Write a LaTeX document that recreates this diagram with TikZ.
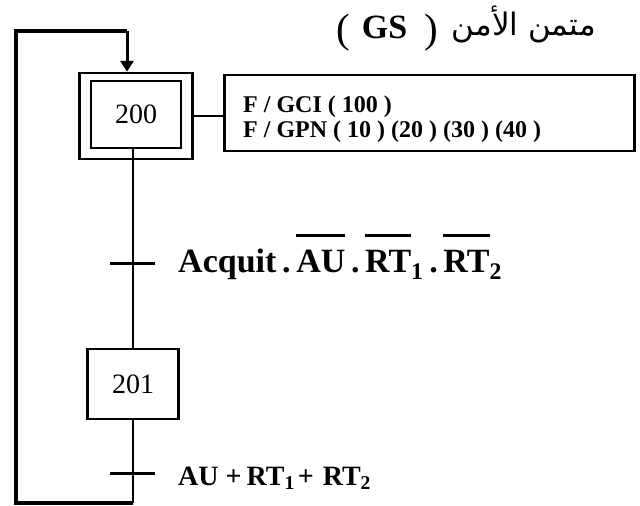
\documentclass[tikz,border=0pt]{standalone}
\usepackage{fontspec}
\setmainfont{Liberation Serif}
\newfontfamily\arabicfont[Script=Arabic]{DejaVu Sans}
\TeXXeTstate=1
\usetikzlibrary{arrows.meta}
\newcommand\ovbar[1]{\vbox{\hrule height 2.5pt\kern 13pt\hbox{#1}}}
\newcommand\bigparen[1]{\raisebox{-4.5pt}{\fontsize{41}{41}\selectfont #1}}
\begin{document}
\begin{tikzpicture}[x=1pt,y=-1pt,
  line/.style={line width=2.5pt},
  loopline/.style={line width=4.5pt, line join=miter},
  tickline/.style={line width=3pt},
  stepbox/.style={draw, line width=2.5pt, minimum width=90pt, minimum height=67pt,
    inner sep=0pt, font=\fontsize{28}{30}\selectfont},
  lbl/.style={anchor=base west, inner sep=0pt, font=\bfseries\fontsize{34}{40}\selectfont}]
\useasboundingbox (0,0) rectangle (640,506);
% steps
\node[stepbox, minimum width=113pt, minimum height=86pt] (s200o) at (136,116) {};
\node[stepbox] (s200) at (136,114.5) {200};
\node[stepbox, minimum width=91pt, minimum height=70pt] (s201) at (133,384) {201};
% action
\node[draw, line width=2.5pt, anchor=west, minimum height=76pt, minimum width=410pt] (act) at (223,113) {};
\node[anchor=base west, inner sep=0pt, align=left, font=\bfseries\fontsize{24}{25}\selectfont] (acttext) at (243,137)
  {F / GCI ( 100 )\\F / GPN ( 10 ) (20 ) (30 ) (40 )};
\draw[line] (s200o.east) -- (s200o.east -| act.west);
% links
\coordinate (t1) at (133,263);
\coordinate (t2) at (133,473);
\coordinate (bl) at (16,503);
\coordinate (tl) at (16,31);
\coordinate (ar) at (127,31);
\draw[line] (s200.south -| s201.north) -- (s201.north);
\draw[line] (s201.south) -- (s201.south |- bl);
\draw[loopline] (s201.south |- bl) -- (bl) -- (tl) -- (ar);
\draw[line width=3pt, -{Triangle[length=11pt,width=13pt]}] (ar) -- (ar |- s200o.north);
% transitions
\draw[tickline] ([xshift=-23pt]t1) -- ([xshift=22pt]t1);
\draw[tickline] ([xshift=-23pt]t2) -- ([xshift=22pt]t2);
\node[lbl] (c1) at (178,272) {Acquit\,.\,\ovbar{AU}\,.\,\ovbar{RT}\textsubscript{1}\,.\,\ovbar{RT}\textsubscript{2}};
\node[lbl, font=\bfseries\fontsize{28}{30}\selectfont] (c2) at (178,485)
  {AU\hspace{7pt}+\hspace{5pt}RT\textsubscript{1}\hspace{3pt}+\hspace{9pt}RT\textsubscript{2}};
% title
\node[anchor=base west, inner sep=0pt, font=\fontsize{34}{38}\selectfont] (title) at (336,38)
  {\bigparen{(}\hspace{12pt}\textbf{GS}\hspace{17pt}\bigparen{)}\hspace{14pt}\raisebox{3pt}{\arabicfont\fontsize{31}{36}\selectfont\beginR متمن الأمن\endR}};
\end{tikzpicture}
\end{document}
